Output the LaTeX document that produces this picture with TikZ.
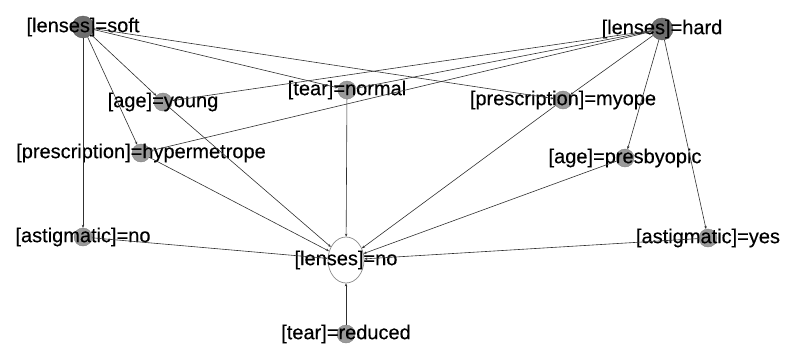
\documentclass[tikz,border=0pt]{standalone}
\usepackage{fontspec}
\setmainfont{Liberation Sans}
\newfontfamily\itemfont{Liberation Sans}[FakeBold=0.3]
\usetikzlibrary{arrows.meta, shapes.geometric}

\definecolor{hubgray}{HTML}{6E6E6E}
\definecolor{itemgray}{HTML}{9A9A9A}
\definecolor{edgegray}{HTML}{303030}

\begin{document}
\begin{tikzpicture} [
						x=1pt, y=1pt,
						every label/.style={font=\itemfont\fontsize{20}{20}\selectfont, inner sep=0pt},
						hub/.style={circle, fill=hubgray, draw=hubgray!80!black, minimum size=22pt, inner sep=0pt},
						item/.style={circle, fill=itemgray, draw=itemgray!85!black, minimum size=18pt, inner sep=0pt},
						target/.style={ellipse, fill=white, draw=itemgray!90!black, line width=0.7pt, minimum width=36pt, minimum height=46pt, inner sep=0pt},
						>={Stealth[length=3pt, width=2.5pt]}
					]

\useasboundingbox (0,0) rectangle (786,-343);

\node (soft)    [hub,    label={center:{[lenses]=soft}}]          at (83,-27)   {};
\node (hard)    [hub,    label={center:{[lenses]=hard}}]          at (662,-29)  {};
\node (young)   [item,   label={center:{[age]=young}}]            at (163,-102) {};
\node (normal)  [item,   label={center:{[tear]=normal}}]          at (347,-90)  {};
\node (hyper)   [item,   label={center:{[prescription]=hypermetrope}}] at (141,-153) {};
\node (myope)   [item,   label={center:{[prescription]=myope}}]   at (563,-100) {};
\node (presby)  [item,   label={center:{[age]=presbyopic}}]       at (625,-158) {};
\node (astno)   [item,   label={center:{[astigmatic]=no}}]        at (83,-237)  {};
\node (astyes)  [item,   label={center:{[astigmatic]=yes}}]       at (708,-238) {};
\node (lno)     [target, label={center:{[lenses]=no}}]            at (346,-260) {};
\node (reduced) [item,   label={center:{[tear]=reduced}}]         at (346,-334) {};

\path[->, draw=edgegray, line width=0.6pt]
	(soft)    edge (astno)
	(soft)    edge (hyper)
	(soft)    edge (young)
	(soft)    edge (normal)
	(soft)    edge (myope)
	(hard)    edge (young)
	(hard)    edge (hyper)
	(hard)    edge (normal)
	(hard)    edge (myope)
	(hard)    edge (presby)
	(hard)    edge (astyes)
	(astno)   edge (lno)
	(hyper)   edge (lno)
	(young)   edge (lno)
	(normal)  edge (lno)
	(myope)   edge (lno)
	(presby)  edge (lno)
	(astyes)  edge (lno)
	(reduced) edge (lno);

\end{tikzpicture}
\end{document}
